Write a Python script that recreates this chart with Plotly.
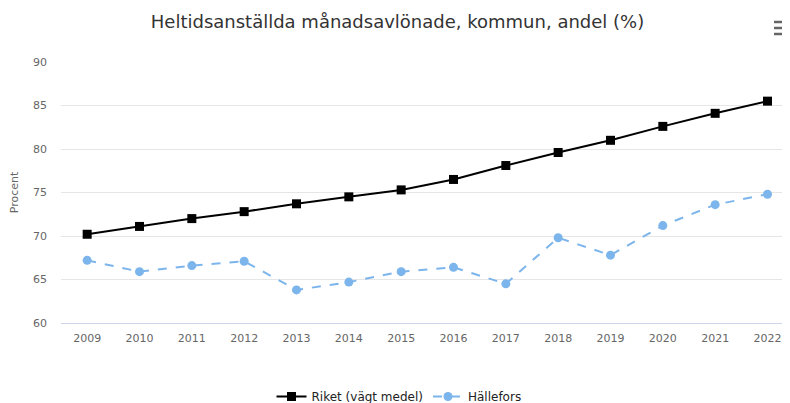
import plotly.graph_objects as go

years = [2009, 2010, 2011, 2012, 2013, 2014, 2015, 2016, 2017, 2018, 2019, 2020, 2021, 2022]
riket = [70.2, 71.1, 72.0, 72.8, 73.7, 74.5, 75.3, 76.5, 78.1, 79.6, 81.0, 82.6, 84.1, 85.5]
hallefors = [67.2, 65.9, 66.6, 67.1, 63.8, 64.7, 65.9, 66.4, 64.5, 69.8, 67.8, 71.2, 73.6, 74.8]
y_ticks = [60, 65, 70, 75, 80, 85, 90]

# the page body adds an 8px offset; figure coordinates = page coordinates - 8
OFF = 8
W, H = 790, 403
L, T = 53, 54
PW, PH = 729, 261
R = W - L - PW
B = H - T - PH

fig = go.Figure()
fig.add_trace(go.Scatter(
    x=years, y=riket, name="Riket (vägt medel)", mode="lines+markers",
    line=dict(color="#000000", width=2),
    marker=dict(symbol="square", size=9, color="#000000"),
))
fig.add_trace(go.Scatter(
    x=years, y=hallefors, name="Hällefors", mode="lines+markers",
    line=dict(color="#7cb5ec", width=2, dash="dash"),
    marker=dict(symbol="circle", size=9, color="#7cb5ec"),
))

fig.update_layout(
    width=W, height=H,
    margin=dict(l=L, r=R, t=T, b=B, autoexpand=False),
    paper_bgcolor="white", plot_bgcolor="white",
    font=dict(family="DejaVu Sans", size=11, color="#666666"),
    title=dict(text="Heltidsanställda månadsavlönade, kommun, andel (%)",
               x=(397.5 - OFF) / W, xanchor="center", y=1 - (22 - OFF) / H, yanchor="middle",
               font=dict(family="DejaVu Sans", size=18, color="#333333")),
    showlegend=True,
    legend=dict(orientation="h", x=(399 - OFF - L) / PW, xanchor="center",
                y=-(403 - (T + PH)) / PH, yanchor="bottom",
                font=dict(family="DejaVu Sans", size=12, color="#222222"),
                itemwidth=30, traceorder="normal"),
    xaxis=dict(range=[2008.5, 2022.43], tickvals=years, ticktext=[str(y) for y in years],
               showgrid=False, zeroline=False, showline=True, linecolor="#ccd6eb", linewidth=1,
               automargin=False,
               ticks="", ticklabelstandoff=5, tickfont=dict(size=11, color="#666666")),
    yaxis=dict(range=[60, 90], tickvals=y_ticks, showgrid=True, gridcolor="#e6e6e6",
               zeroline=False, showline=False, ticks="", ticklabelstandoff=13,
               automargin=False,
               title=dict(text="Procent", font=dict(size=11, color="#666666"), standoff=14),
               tickfont=dict(size=11, color="#666666")),
)

# menu icon (three bars, top right)
for ypx in [22, 28, 34]:
    yy = ypx - OFF
    fig.add_shape(type="line", xref="paper", yref="paper",
                  x0=(774 - OFF - L) / PW, x1=(790 - OFF - L) / PW,
                  y0=(T + PH - yy) / PH, y1=(T + PH - yy) / PH,
                  line=dict(color="#666666", width=2.5))

fig.write_html("out.html")
